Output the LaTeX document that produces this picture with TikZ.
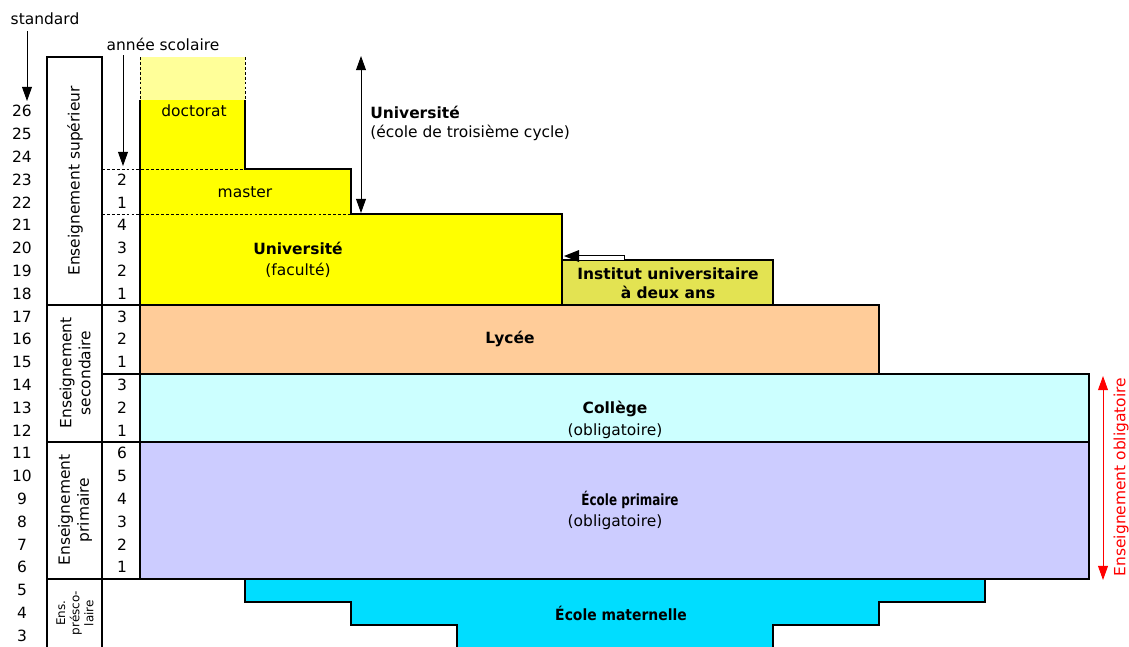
\documentclass[tikz,border=0pt]{standalone}
\usepackage{fontspec}
\setmainfont{DejaVu Sans}
\newfontfamily\condfont{DejaVu Sans Condensed}
\newfontfamily\narrowfont[FakeStretch=0.86]{DejaVu Sans Condensed}
\usetikzlibrary{arrows.meta}

\definecolor{univyellow}{HTML}{FFFF00}
\definecolor{paleyellow}{HTML}{FFFF99}
\definecolor{instolive}{HTML}{E3E352}
\definecolor{lyceeorange}{HTML}{FFCC99}
\definecolor{collegecyan}{HTML}{CCFFFF}
\definecolor{primlilac}{HTML}{CCCCFF}
\definecolor{matblue}{HTML}{00DDFF}

\tikzset{
  block/.style={draw=black, line width=1.9pt},
  dashline/.style={dashed, dash pattern=on 2pt off 1.5pt, line width=0.6pt},
  arr/.style={-{Triangle[length=10pt,width=7pt]}, line width=0.7pt},
  dblarr/.style={{Triangle[length=10pt,width=7pt]}-{Triangle[length=10pt,width=7pt]}, line width=0.7pt},
  lbl/.style={font=\fontsize{11}{13.5}\selectfont, inner sep=0pt},
  bold/.style={lbl, font=\fontsize{11}{13.5}\selectfont\bfseries},
}

\begin{document}
\begin{tikzpicture}[x=0.025cm,y=-0.025cm]
  \useasboundingbox (0,0) rectangle (1129,646);

  % Doctorat, the open top
  \fill[paleyellow] (140,57) rectangle (245,100);
  \draw[dashline] (140,57) -- (140,100) (245,57) -- (245,100);

  % University block (doctorat, master, faculte)
  \fill[univyellow] (140,100) -- (245,100) -- (245,169) -- (351,169) -- (351,214)
    -- (562,214) -- (562,305) -- (140,305) -- cycle;
  \draw[dashline] (102,169) -- (245,169);
  \draw[dashline] (102,214) -- (351,214);
  \draw[block] (140,305) -- (140,100) (245,100) -- (245,169) -- (351,169) -- (351,214)
    -- (562,214) -- (562,305);

  % Other blocks
  \filldraw[block, fill=instolive] (562,260) rectangle (773,305);
  \filldraw[block, fill=lyceeorange] (140,305) rectangle (879,374);
  \filldraw[block, fill=collegecyan] (140,374) rectangle (1089,442);
  \filldraw[block, fill=primlilac] (140,442) rectangle (1089,579);
  \filldraw[block, fill=matblue] (245,579) -- (985,579) -- (985,602) -- (879,602)
    -- (879,625) -- (773,625) -- (773,660) -- (457,660) -- (457,625) -- (351,625)
    -- (351,602) -- (245,602) -- cycle;

  % Left columns
  \draw[block] (47,57) rectangle (102,305);
  \draw[block] (47,305) rectangle (102,442);
  \draw[block] (47,442) rectangle (102,579);
  \draw[block] (47,660) -- (47,579) -- (140,579);
  \draw[block] (102,579) -- (102,660);
  \draw[block] (102,305) -- (140,305);
  \draw[block] (102,374) -- (140,374);
  \draw[block] (102,442) -- (140,442);

  \node[lbl, rotate=90] (sup) at (75,181) {Enseignement supérieur};
  \node[lbl, rotate=90, align=center] (sec) at (75,373) {Enseignement\\secondaire};
  \node[lbl, rotate=90, align=center] (prim) at (75,510) {Enseignement\\primaire};
  \node[lbl, rotate=90, align=center, font=\fontsize{8.5}{10}\selectfont] (presco) at (75,613) {Ens.\\présco-\\laire};

  % Ages and school years
  \foreach \a in {3,...,26}
    \node[lbl] (age\a) at (22,{590-(\a-5)*22.8}) {\a};
  \foreach \a/\n in {23/2,22/1,21/4,20/3,19/2,18/1,17/3,16/2,15/1,14/3,13/2,12/1,
                     11/6,10/5,9/4,8/3,7/2,6/1}
    \node[lbl] (yr\a) at (122,{590-(\a-5)*22.8}) {\n};

  \node[lbl] (standard) at (45,19) {standard};
  \coordinate (std-top) at (27,31);
  \coordinate (std-end) at (27,101);
  \draw[arr] (std-top) -- (std-end);

  \node[lbl] (annee) at (163,44) {année scolaire};
  \coordinate (an-top) at (123,55);
  \coordinate (an-end) at (123,166);
  \draw[arr] (an-top) -- (an-end);

  % Block labels
  \node[lbl] (doct) at (194,111) {doctorat};
  \node[lbl] (master) at (245,192) {master};
  \node[bold] (univ) at (298,248) {Université};
  \node[lbl] (univsub) at (298,270) {(faculté)};
  \node[bold, align=center] (inst) at (668,283) {Institut universitaire\\à deux ans};
  \node[bold] (lycee) at (510,339) {Lycée};
  \node[bold] (college) at (615,409) {Collège};
  \node[lbl] (collegesub) at (615,431) {(obligatoire)};
  \node[bold, font=\fontsize{11}{13.5}\selectfont\narrowfont\bfseries] (primaire) at (630,500) {École primaire};
  \node[lbl] (primairesub) at (615,522) {(obligatoire)};
  \node[bold, font=\fontsize{11}{13.5}\selectfont\condfont\bfseries] (maternelle) at (621,613) {École maternelle};

  % Graduate school arrow
  \coordinate (cyc-top) at (361,56);
  \coordinate (cyc-end) at (361,213);
  \draw[dblarr] (cyc-top) -- (cyc-end);
  \node[bold, anchor=west] (cycle) at (370,112) {Université};
  \node[lbl, anchor=west] (cyclesub) at (370,133) {(école de troisième cycle)};

  % Small arrow to the faculte
  \filldraw[fill=white, draw=black, line width=0.4pt] (578,255) rectangle (624,260);
  \fill[black] (564,256) -- (579,250) -- (579,262) -- cycle;

  % Compulsory schooling
  \coordinate (obl-top) at (1103,376);
  \coordinate (obl-end) at (1103,580);
  \draw[dblarr, red] (obl-top) -- (obl-end);
  \node[lbl, red, rotate=90] (oblig) at (1121,477) {Enseignement obligatoire};
\end{tikzpicture}
\end{document}
